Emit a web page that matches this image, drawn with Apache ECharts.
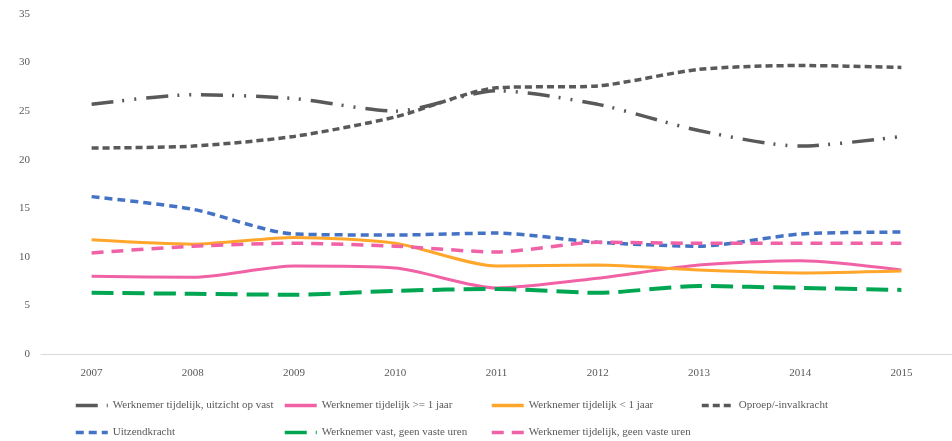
<!DOCTYPE html>
<html>
<head>
<meta charset="utf-8">
<script src="https://cdn.jsdelivr.net/npm/echarts@6/dist/echarts.min.js"></script>
<style>
  html, body { margin: 0; padding: 0; background: #fff; }
  #chart { width: 952px; height: 441px; }
</style>
</head>
<body>
<div id="chart"></div>
<script>
// jaren op de x-as
var years = ['2007', '2008', '2009', '2010', '2011', '2012', '2013', '2014', '2015'];

// percentages per type arbeidsrelatie
var uitzichtVast = [25.7, 26.7, 26.3, 25.0, 27.1, 25.7, 23.0, 21.4, 22.4];
var tijdelijkLang = [8.0, 7.9, 9.05, 8.85, 6.8, 7.8, 9.15, 9.6, 8.65];
var tijdelijkKort = [11.75, 11.3, 12.0, 11.4, 9.05, 9.15, 8.65, 8.35, 8.55];
var oproep = [21.2, 21.4, 22.4, 24.4, 27.4, 27.6, 29.3, 29.7, 29.5];
var uitzend = [16.2, 14.9, 12.35, 12.25, 12.45, 11.5, 11.1, 12.35, 12.55];
var vastFlex = [6.3, 6.2, 6.1, 6.5, 6.7, 6.3, 7.0, 6.8, 6.6];
var tijdelijkFlex = [10.4, 11.1, 11.4, 11.1, 10.5, 11.5, 11.4, 11.4, 11.4];

var names = [
  'Werknemer tijdelijk, uitzicht op vast',
  'Werknemer tijdelijk >= 1 jaar',
  'Werknemer tijdelijk < 1 jaar',
  'Oproep/-invalkracht',
  'Uitzendkracht',
  'Werknemer vast, geen vaste uren',
  'Werknemer tijdelijk, geen vaste uren'
];

var chart = echarts.init(document.getElementById('chart'));

var fontFam = '"Liberation Serif", "DejaVu Serif", serif';

// lijn-serie maken
var mkLine = function (name, data, color, dash, width) {
  return {
    name: name,
    type: 'line',
    data: data,
    smooth: 0.25,
    symbol: 'none',
    lineStyle: { color: color, width: width || 3.5, type: dash, cap: 'butt' },
    itemStyle: { color: color }
  };
};

// legenda posities (4 kolommen, 2 rijen)
var legendPos = [
  [74, 400], [283, 400], [490, 400], [700, 400],
  [74, 427], [283, 427], [490, 427]
];
var legends = [];
for (var i = 0; i < names.length; i++) {
  legends.push({
    data: [names[i]],
    left: legendPos[i][0],
    top: legendPos[i][1],
    padding: 0,
    itemWidth: 32,
    itemHeight: 12,
    itemGap: 5,
    // alleen de lijn tonen, geen bolletje
    itemStyle: { color: 'transparent', borderWidth: 0, opacity: 0 },
    lineStyle: { width: 3.5 },
    textStyle: { color: '#595959', fontSize: 11, fontFamily: fontFam }
  });
}

chart.setOption({
  animation: false,
  legend: legends,
  grid: { left: 41, right: 0, top: 14, bottom: 87 },
  xAxis: {
    type: 'category',
    data: years,
    axisLine: { lineStyle: { color: '#D9D9D9', width: 1 } },
    axisTick: { show: false },
    axisLabel: { color: '#595959', fontSize: 11, fontFamily: fontFam, margin: 14 }
  },
  yAxis: {
    type: 'value',
    min: 0,
    max: 35,
    interval: 5,
    splitLine: { show: false },
    axisLabel: { color: '#595959', fontSize: 11, fontFamily: fontFam, margin: 11 }
  },
  series: [
    mkLine(names[0], uitzichtVast, '#595959', [22, 9, 2, 10, 2, 10]),
    mkLine(names[1], tijdelijkLang, '#F062A5', 'solid', 3),
    mkLine(names[2], tijdelijkKort, '#FFA62B', 'solid', 3),
    mkLine(names[3], oproep, '#595959', [7, 4]),
    mkLine(names[4], uitzend, '#4472C4', [8, 5]),
    mkLine(names[5], vastFlex, '#00A651', [22, 9], 4),
    mkLine(names[6], tijdelijkFlex, '#F062A5', [12, 8])
  ]
});
</script>
</body>
</html>
